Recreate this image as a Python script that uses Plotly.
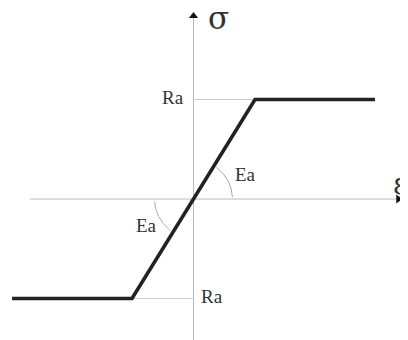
import numpy as np
import plotly.graph_objects as go

# Elastic-perfectly-plastic stress-strain diagram (normalised units)
strain = [-2.95, -1.0, 1.0, 2.95]
stress = [-1.0, -1.0, 1.0, 1.0]
ra_label = "Ra"
ea_label = "Ea"
sigma_label = "σ"
eps_label = "ε"

PAD = 8                      # page body margin
W, H = 408 - PAD, 340 - PAD
X0, Y0 = 193.5 - PAD, 199.0 - PAD   # origin in figure pixels
SX, SY = 61.5, 99.5          # pixels per unit
xr = [-X0 / SX, (W - X0) / SX]
yr = [-(H - Y0) / SY, Y0 / SY]

AX = "#b8b8b8"
GUIDE = "#cccccc"
INK = "#222222"
FONT = "Liberation Serif"

fig = go.Figure()

# axes
fig.add_trace(go.Scatter(x=[-2.66, 3.33], y=[0, 0], mode="lines",
                         line=dict(color=AX, width=1), hoverinfo="skip"))
fig.add_trace(go.Scatter(x=[0, 0], y=[yr[0], 1.84], mode="lines",
                         line=dict(color=AX, width=1), hoverinfo="skip"))
fig.add_trace(go.Scatter(x=[3.33], y=[0], mode="markers",
                         marker=dict(symbol="triangle-right", size=8, color="#111"),
                         hoverinfo="skip"))
fig.add_trace(go.Scatter(x=[0], y=[1.84], mode="markers",
                         marker=dict(symbol="triangle-up", size=8, color="#111"),
                         hoverinfo="skip"))

# guide lines at yield stress
fig.add_trace(go.Scatter(x=[0, strain[2]], y=[stress[2], stress[2]], mode="lines",
                         line=dict(color=GUIDE, width=1), hoverinfo="skip"))
fig.add_trace(go.Scatter(x=[strain[1], 0], y=[stress[1], stress[1]], mode="lines",
                         line=dict(color=GUIDE, width=1), hoverinfo="skip"))

# angle arcs (pixel-circular)
ang = np.degrees(np.arctan2((stress[2] - stress[1]) * SY, (strain[2] - strain[1]) * SX))
R = 39.0
for a0, a1 in [(3, ang - 4), (184, 180 + ang - 5)]:
    t = np.radians(np.linspace(a0, a1, 40))
    fig.add_trace(go.Scatter(x=R * np.cos(t) / SX, y=R * np.sin(t) / SY, mode="lines",
                             line=dict(color="#aaaaaa", width=1), hoverinfo="skip"))

# main curve
fig.add_trace(go.Scatter(x=strain, y=stress, mode="lines",
                         line=dict(color=INK, width=3.6), hoverinfo="skip"))

def txt(x, y, s, size, xanchor="center", family=FONT):
    fig.add_annotation(x=x, y=y, text=s, showarrow=False, xanchor=xanchor,
                       yanchor="middle", font=dict(family=family, size=size, color="#333"))

txt(0.40, 1.82, sigma_label, 31, family="DejaVu Serif")
txt(3.21, 0.155, eps_label, 30, "left", family="DejaVu Serif")
txt(-0.13, 1.02, ra_label, 19, "right")
txt(0.09, -0.98, ra_label, 19, "left")
txt(0.845, 0.25, ea_label, 19)
txt(-0.76, -0.27, ea_label, 19)

fig.update_layout(width=W, height=H, margin=dict(l=0, r=0, t=0, b=0),
                  plot_bgcolor="white", paper_bgcolor="white", showlegend=False,
                  xaxis=dict(range=xr, visible=False, fixedrange=True),
                  yaxis=dict(range=yr, visible=False, fixedrange=True))
fig.write_html("out.html", config={"displayModeBar": False})
